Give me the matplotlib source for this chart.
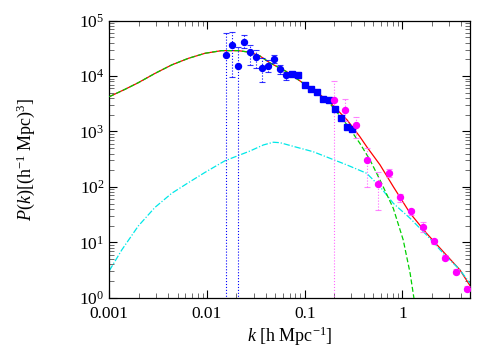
import numpy as np
import matplotlib
matplotlib.use("Agg")
import matplotlib.pyplot as plt

plt.rcParams['font.family'] = ['Liberation Serif', 'DejaVu Serif']
plt.rcParams['mathtext.fontset'] = 'custom'
plt.rcParams['mathtext.rm'] = 'Liberation Serif'
plt.rcParams['mathtext.it'] = 'Liberation Serif:italic'
plt.rcParams['mathtext.default'] = 'regular'

# blue points (circles first, then squares)
k_blue_c = [0.0156, 0.0180, 0.0209, 0.0239, 0.0275, 0.0320, 0.0368, 0.0424, 0.0488, 0.0562, 0.0648]
p_blue_c = [23700, 36900, 15200, 41800, 26900, 22100, 13800, 15200, 20100, 13400, 10300]
hi_blue_c = [60700, 63300, 34000, 55200, 36400, 29600, 20900, 19500, 23700, 15900, 12000]
lo_blue_c = [0.5, 9750, 0.5, 31800, 15900, 13800, 7920, 12000, 17000, 10900, 8500]

k_blue_s = [0.0746, 0.0860, 0.100, 0.115, 0.133, 0.153, 0.177, 0.204, 0.235, 0.269, 0.307]
p_blue_s = [10900, 10500, 7000, 5780, 5100, 3910, 3750, 2550, 1750, 1220, 1120]

# magenta points
k_mag = [0.198, 0.257, 0.335, 0.434, 0.558, 0.734, 0.944, 1.23, 1.61, 2.09, 2.71, 3.54, 4.55]
p_mag = [3750, 2410, 1290, 302, 114, 176, 64.9, 36.3, 19.1, 10.4, 5.27, 2.95, 1.45]
hi_mag = [8050, 3860, 1850, 497, 188, 208, 74.5, 40.4, 23.5, 11.6, 5.8, 3.25, 1.6]
lo_mag = [0.5, 1550, 763, 98, 38.3, 149, 54, 31.1, 15.5, 9.3, 4.8, 2.7, 1.3]

# red (solid) model
k_red = [0.001, 0.00145, 0.00198, 0.00294, 0.00435, 0.00644, 0.00955, 0.0141, 0.0209, 0.0276,
         0.0348, 0.0441, 0.0654, 0.0968, 0.125, 0.185, 0.272, 0.367, 0.431, 0.59, 0.807,
         1.20, 1.77, 2.62, 3.89, 4.92]
p_red = [4250, 5780, 7600, 11200, 15900, 20900, 25800, 28800, 28800, 26900,
         23100, 17300, 12000, 7420, 5610, 3230, 1610, 806, 532, 250, 101,
         33.4, 14.5, 6.77, 3.16, 1.65]

# green (dashed) model
k_green = [0.001, 0.00145, 0.00198, 0.00294, 0.00435, 0.00644, 0.00955, 0.0141, 0.0209, 0.0276,
           0.0348, 0.0441, 0.0654, 0.0968, 0.125, 0.185, 0.272, 0.367, 0.466, 0.59, 0.807,
           1.02, 1.20, 1.31, 1.40]
p_green = [4250, 5780, 7600, 11200, 15900, 20900, 25800, 28800, 28800, 26900,
           23100, 17300, 12000, 7420, 5500, 3050, 1310, 612, 306, 133, 41.1,
           11.0, 2.76, 1.0, 0.6]

# cyan (dash-dot) model
k_cyan = [0.001, 0.00134, 0.00198, 0.00294, 0.00435, 0.00644, 0.00955, 0.0153, 0.0276, 0.0377,
          0.0477, 0.0559, 0.0828, 0.122, 0.213, 0.269, 0.431, 0.590, 0.807, 1.20,
          1.77, 2.62, 3.89, 4.92]
p_cyan = [3.07, 7.26, 19.7, 42.8, 76.6, 119, 183, 297, 445, 571,
          640, 628, 519, 432, 294, 250, 176, 101, 50.6, 27.1,
          13.5, 6.33, 3.16, 1.82]

xtick_vals = [0.001, 0.01, 0.1, 1]
xtick_labels = ["0.001", "0.01", "0.1", "1"]
ytick_vals = [1, 10, 100, 1000, 1e4, 1e5]
ytick_labels = ["$10^{0}$", "$10^{1}$", "$10^{2}$", "$10^{3}$", "$10^{4}$", "$10^{5}$"]

fig = plt.figure(figsize=(5, 3.5), dpi=100)
ax = fig.add_axes([0.2186, 0.1494, 0.7214, 0.7915])

ax.plot(k_red, p_red, color="#ff0000", lw=0.9, zorder=2)
ax.plot(k_green, p_green, color="#00d000", lw=0.9, ls=(0, (4, 2)), zorder=3)
ax.plot(k_cyan, p_cyan, color="#00e8e8", lw=0.9, ls=(0, (5, 1.5, 1, 1.5)), zorder=2)


def errpts(k, p, hi, lo, col, errcol, marker):
    p = np.array(p)
    yerr = [p - np.array(lo), np.array(hi) - p]
    _, caps, bars = ax.errorbar(k, p, yerr=yerr, fmt=marker, color=col, ms=4.3,
                                ecolor=errcol, elinewidth=0.8, capsize=2, capthick=0.8,
                                zorder=4)
    bars[0].set_linestyle(":")
    for c in caps:
        c.set_alpha(0.8)


errpts(k_blue_c, p_blue_c, hi_blue_c, lo_blue_c, "#0000ff", "#0000ff", "o")
p_bs = np.array(p_blue_s)
errpts(k_blue_s, p_bs, p_bs * 1.07, p_bs / 1.07, "#0000ff", "#0000ff", "s")
errpts(k_mag, p_mag, hi_mag, lo_mag, "#ff00ff", "#ff66ff", "o")

ax.set_xscale("log")
ax.set_yscale("log")
ax.set_xlim(0.001, 4.92)
ax.set_ylim(1, 1e5)
ax.set_xticks(xtick_vals)
ax.set_xticklabels(xtick_labels)
ax.set_yticks(ytick_vals)
ax.set_yticklabels(ytick_labels)
ax.tick_params(which="both", direction="in", top=True, right=True, labelsize=12.5)
ax.tick_params(which="major", length=6, width=0.8)
ax.tick_params(which="minor", length=3.5, width=0.6, color="#555555")
ax.tick_params(axis="x", pad=6)
for s in ax.spines.values():
    s.set_linewidth(0.9)

ax.set_xlabel("$\\it{k}$ [h Mpc$^{-1}$]", fontsize=13, labelpad=2)
ax.set_ylabel("$\\it{P}$($\\it{k}$)[(h$^{-1}$ Mpc)$^{3}$]", fontsize=13, labelpad=30)

fig.savefig("out.png", dpi=100)
